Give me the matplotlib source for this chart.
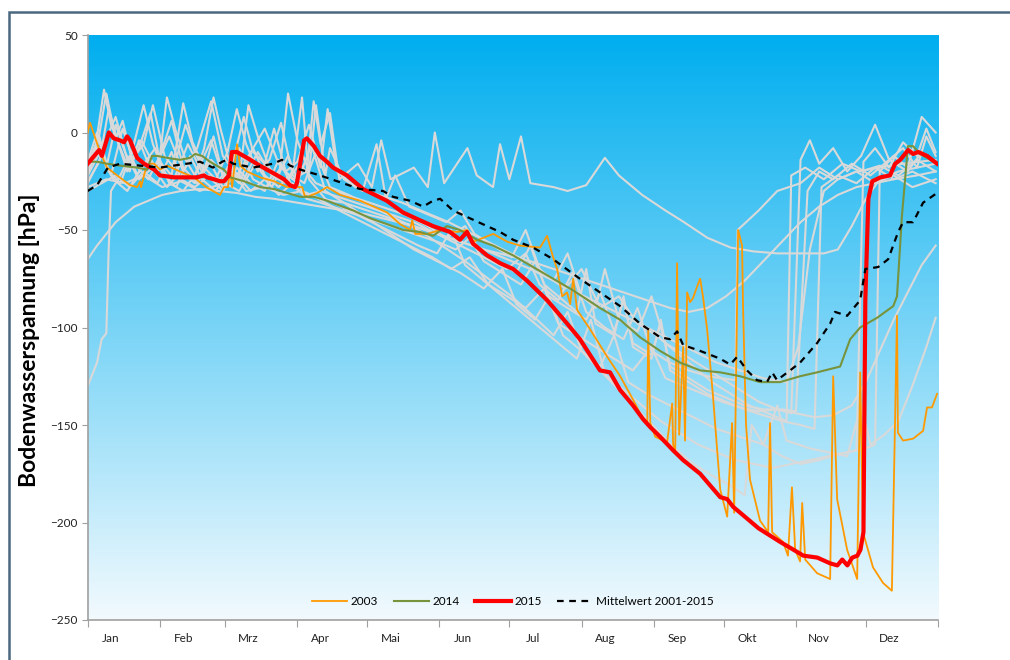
import numpy as np
import matplotlib
matplotlib.use("Agg")
import matplotlib.pyplot as plt
from matplotlib.colors import LinearSegmentedColormap
from matplotlib.patches import Rectangle

plt.rcParams['font.family'] = ['Lato', 'DejaVu Sans']

# Monatsgrenzen (Tage) und Monatsnamen
month_edges = [0, 31, 59, 90, 120, 151, 181, 212, 243, 273, 304, 334, 365]
month_names = ["Jan", "Feb", "Mrz", "Apr", "Mai", "Jun", "Jul", "Aug", "Sep", "Okt", "Nov", "Dez"]
y_ticks = [50, 0, -50, -100, -150, -200, -250]

# 2003 (Tag, hPa)
y2003 = [(0, 0), (1.0, 5), (2.7, -1), (5.3, -10), (8.3, -18), (12.6, -22), (18.2, -27), (21.2, -28),
         (22.5, -25), (22.9, -28), (24.6, -20), (26.3, -16), (28.5, -16), (31.0, -19), (34.0, -17),
         (39.6, -20), (45.6, -23), (50.8, -28), (56.8, -32), (58.5, -28), (60.2, -28), (61.1, -19),
         (62.0, -28), (64.1, -6), (65.4, -17), (68.4, -20), (74.0, -23), (80.0, -25), (85.6, -28),
         (92.1, -28), (93.0, -32), (94.3, -33), (98.5, -31), (102.8, -28), (108.4, -32), (117.0, -35),
         (128.5, -41), (134.1, -47), (138.4, -50), (139.3, -45), (140.6, -52), (145.7, -52),
         (151.3, -50), (158.6, -51), (162.9, -50), (165.5, -56), (174.1, -52), (180.1, -56),
         (185.6, -58), (194.2, -59), (197.2, -53), (199.8, -64), (201.5, -70), (203.7, -84),
         (205.8, -82), (207.1, -88), (208.4, -75), (210.1, -91), (215.7, -101), (223.0, -115),
         (228.6, -125), (234.1, -137), (238.4, -147), (240.2, -149), (240.6, -101), (241.5, -149),
         (243.6, -156), (248.7, -159), (250.9, -139), (251.3, -160), (252.2, -163), (253.0, -67),
         (253.9, -155), (255.6, -110), (256.4, -158), (257.3, -82), (258.6, -87), (259.8, -85),
         (261.6, -79), (262.9, -75), (264.1, -84), (265.9, -101), (268.4, -135), (271.5, -183),
         (274.5, -197), (276.6, -149), (277.5, -195), (279.2, -50), (280.9, -58), (281.3, -89),
         (282.6, -150), (284.3, -178), (288.6, -199), (292.1, -205), (292.9, -149), (293.8, -205),
         (298.5, -210), (300.6, -217), (302.3, -182), (303.7, -214), (305.8, -220), (306.7, -190),
         (308.0, -219), (313.1, -226), (318.7, -229), (320.0, -125), (321.7, -188), (326.0, -214),
         (330.3, -229), (331.6, -123), (332.8, -205), (337.1, -223), (341.4, -231), (345.2, -235),
         (347.4, -94), (347.8, -154), (350.0, -158), (354.3, -157), (358.6, -153), (360.3, -141),
         (362.4, -141), (364.6, -134)]

# 2014
y2014 = [(0, -15), (4.0, -15), (8.3, -16), (13.9, -17), (21.2, -18), (25.5, -19), (27.6, -12),
         (29.8, -12), (34.1, -13), (39.6, -14), (43.9, -13), (46.1, -11), (49.1, -12), (52.5, -15),
         (56.8, -18), (58.5, -19), (61.1, -23), (67.1, -25), (74.0, -28), (80.0, -29), (85.6, -31),
         (91.2, -33), (97.2, -33), (102.8, -35), (107.1, -37), (114.0, -40), (121.3, -44),
         (128.5, -47), (135.4, -50), (142.7, -51), (148.2, -53), (154.2, -48), (159.8, -50),
         (167.1, -55), (174.0, -58), (182.6, -63), (191.2, -69), (199.8, -75), (208.4, -81),
         (219.9, -90), (228.5, -96), (237.1, -105), (245.7, -112), (254.3, -118), (262.9, -122),
         (271.5, -123), (280.1, -125), (288.6, -128), (297.2, -128), (305.8, -125), (313.1, -123),
         (323.0, -120), (327.3, -106), (331.6, -100), (338.9, -95), (345.8, -89), (347.4, -84),
         (349.5, -43), (352.1, -7), (354.3, -7), (357.3, -11), (364.6, -16)]

# 2015
y2015 = [(0, -16), (4.9, -9), (6.1, -12), (9.1, 0), (11.2, -3), (13.8, -4), (15.6, -5), (16.9, -2),
         (18.2, -4), (21.2, -13), (24.2, -16), (28.5, -19), (31.0, -22), (37.0, -23), (42.6, -23),
         (46.9, -23), (49.9, -22), (51.2, -23), (54.2, -24), (56.8, -25), (58.5, -25), (60.6, -22),
         (61.9, -10), (64.0, -10), (68.4, -13), (73.9, -17), (79.9, -21), (84.3, -24), (86.8, -27),
         (89.0, -28), (89.8, -26), (92.9, -4), (94.1, -3), (97.1, -7), (99.7, -12), (102.7, -15),
         (105.3, -18), (111.3, -22), (118.2, -29), (128.4, -35), (135.3, -41), (142.6, -45),
         (148.2, -48), (155.5, -51), (159.8, -55), (162.8, -51), (165.4, -57), (171.4, -63),
         (177.0, -67), (182.6, -70), (188.6, -76), (197.2, -86), (205.8, -98), (211.3, -106),
         (219.9, -122), (224.2, -123), (228.5, -132), (234.1, -140), (238.4, -147), (241.4, -151),
         (245.7, -156), (251.3, -163), (255.6, -168), (262.9, -175), (271.5, -187), (274.5, -188),
         (277.1, -192), (280.1, -195), (288.0, -203), (297.3, -210), (301.6, -213), (307.2, -217),
         (313.2, -218), (318.8, -221), (321.8, -222), (323.9, -219), (326.1, -222), (328.2, -218),
         (330.4, -217), (331.7, -214), (333.0, -205), (333.8, -86), (335.1, -34), (336.8, -25),
         (340.3, -23), (344.4, -22), (346.6, -16), (348.8, -14), (352.2, -9), (354.3, -11),
         (356.5, -10), (360.3, -12), (364.6, -16)]

# Mittelwert 2001-2015
mittel = [(0, -30), (4.0, -27), (8.7, -18), (13.9, -16), (22.5, -17), (31.0, -18), (42.6, -16),
          (48.2, -15), (53.8, -18), (57.7, -15), (59.8, -14), (62.4, -16), (71.0, -18), (79.6, -16),
          (83.4, -14), (86.9, -17), (91.2, -19), (99.7, -22), (107.1, -25), (116.9, -29),
          (126.8, -30), (131.1, -33), (138.4, -35), (144.0, -38), (148.2, -35), (151.3, -34),
          (156.8, -40), (164.1, -44), (171.4, -48), (177.0, -51), (182.6, -55), (191.2, -59),
          (199.8, -65), (210.1, -74), (219.9, -82), (228.5, -89), (237.1, -98), (245.7, -105),
          (250.0, -106), (253.0, -102), (255.6, -109), (262.9, -112), (271.5, -116), (275.8, -119),
          (278.8, -115), (283.0, -122), (287.3, -127), (291.6, -128), (293.8, -123), (295.9, -127),
          (301.5, -122), (305.8, -118), (313.1, -108), (318.7, -98), (320.8, -92), (326.0, -94),
          (331.6, -86), (333.8, -70), (339.3, -69), (343.6, -65), (347.9, -51), (350.0, -46),
          (354.3, -46), (358.6, -36), (364.6, -31)]

# uebrige Jahre 2001-2015 (grau)
g01 = [(0, -18), (4, -8), (8, 20), (12, -3), (15, 6), (19, -14), (24, -6), (28, 14), (33, -12), (37, -18),
       (42, 4), (46, -10), (50, -20), (54, -2), (58, -22), (63, -12), (67, 8), (71, -10), (76, -16), (80, 2),
       (85, -20), (90, -15), (95, 4), (100, -18), (103, 12), (107, -20), (115, -28), (125, -32), (135, -36),
       (145, -41), (155, -46), (165, -52), (175, -58), (185, -64), (195, -72), (205, -80), (212, -70),
       (220, -90), (228, -84), (236, -98), (244, -104), (252, -112), (260, -120), (268, -128), (276, -134),
       (284, -140), (292, -144), (300, -148), (302, -22), (308, -18), (316, -24), (324, -16), (332, -20),
       (340, -17), (348, -22), (356, -14), (364, -20)]
g02 = [(0, -25), (5, -15), (9, 12), (13, -5), (17, -20), (22, -8), (27, 10), (31, -15), (36, -22), (41, 15),
       (45, -5), (50, -18), (55, -24), (60, -10), (64, 12), (68, -6), (73, -20), (78, -14), (83, 5), (88, -22),
       (93, -26), (98, -10), (104, -28), (112, -32), (122, -38), (132, -44), (142, -50), (152, -58),
       (162, -66), (172, -75), (182, -84), (192, -95), (200, -104), (206, -92), (212, -112), (220, -122),
       (228, -132), (236, -142), (244, -152), (252, -162), (260, -170), (268, -176), (276, -181), (282, -186),
       (285, -150), (290, -160), (298, -166), (306, -170), (314, -168), (322, -165), (330, -163), (333, -15),
       (338, -8), (344, -18), (350, -5), (356, -12), (360, 2), (364, -10)]
g03 = [(0, -30), (6, -26), (12, -22), (18, -28), (24, -20), (30, -26), (36, -10), (40, -24), (46, -28),
       (52, -22), (58, -30), (64, -18), (70, -26), (76, -30), (82, -14), (88, -28), (94, -32), (100, -30),
       (110, -34), (120, -38), (130, -42), (140, -46), (150, -52), (160, -58), (170, -64), (180, -70),
       (188, -62), (194, -78), (202, -86), (208, -72), (214, -92), (222, -100), (230, -106), (236, -90),
       (242, -112), (250, -118), (258, -122), (266, -125), (278, -127), (279, -50), (288, -40), (296, -30),
       (306, -26), (314, -18), (322, -24), (330, -20), (338, -26), (346, -22), (354, -28), (364, -24)]
g04 = [(0, -22), (7, -6), (12, 8), (17, -14), (23, -4), (29, -18), (35, -2), (41, -20), (47, -8), (53, 16),
       (58, -12), (64, -22), (70, -10), (76, 2), (82, -16), (88, -24), (94, -20), (97, 16), (100, -6),
       (104, 10), (108, -24), (116, -16), (122, -28), (126, -4), (130, -24), (140, -18), (146, -28),
       (149, 0), (153, -26), (163, -8), (167, -22), (174, -28), (177, -6), (181, -24), (186, -2), (190, -26),
       (200, -28), (206, -30), (214, -27), (222, -13), (228, -22), (238, -32), (248, -40), (256, -46),
       (266, -54), (276, -59), (286, -61), (296, -62), (306, -62), (316, -62), (322, -60), (328, -48),
       (334, -34), (340, -24), (348, -20), (356, -18), (364, -16)]
g05 = [(0, -28), (8, -24), (16, -26), (24, -22), (32, -28), (40, -25), (48, -30), (56, -27), (62, -20),
       (68, -30), (76, -28), (84, -32), (92, -30), (100, -34), (110, -36), (120, -40), (130, -44), (140, -48),
       (150, -52), (160, -56), (170, -60), (180, -63), (190, -66), (200, -70), (210, -74), (220, -78),
       (230, -82), (240, -86), (250, -90), (258, -92), (266, -90), (274, -84), (282, -76), (290, -66),
       (298, -56), (306, -46), (314, -38), (322, -32), (330, -28), (338, -26), (346, -24), (356, -22),
       (364, -20)]
g06 = [(0, -20), (5, -8), (10, -22), (15, 2), (20, -16), (26, -24), (31, -12), (36, 6), (41, -18), (47, -26),
       (53, -14), (59, -22), (65, -8), (71, -24), (77, -28), (83, -18), (90, -26), (96, -6), (102, -30),
       (110, -36), (120, -44), (130, -52), (140, -60), (150, -66), (160, -72), (170, -80), (178, -70),
       (184, -88), (192, -96), (198, -84), (204, -104), (212, -112), (220, -120), (226, -104), (232, -128),
       (240, -134), (250, -140), (260, -146), (270, -152), (280, -156), (290, -160), (296, -140), (300, -158),
       (310, -162), (318, -164), (326, -166), (332, -140), (336, -160), (342, -155), (348, -148), (354, -130),
       (360, -110), (364, -95)]
g07 = [(0, -26), (6, -12), (11, -24), (17, -30), (23, -18), (29, -8), (35, -26), (41, -30), (47, -20),
       (53, -4), (59, -26), (65, -30), (72, -16), (79, -28), (86, -12), (92, -30), (99, -34), (108, -40),
       (118, -46), (128, -52), (138, -58), (148, -64), (156, -70), (164, -64), (172, -78), (180, -84),
       (188, -90), (196, -80), (202, -98), (210, -104), (218, -110), (226, -116), (234, -122), (242, -110),
       (248, -126), (256, -130), (264, -134), (272, -138), (280, -141), (288, -143), (296, -142), (304, -144),
       (312, -146), (320, -145), (328, -140), (334, -128), (340, -112), (346, -96), (352, -82), (358, -68),
       (364, -58)]
g08 = [(0, -15), (4, 0), (8, -18), (12, 4), (16, -10), (21, -22), (26, -14), (32, -20), (37, -24), (43, -6),
       (49, -20), (55, -26), (61, -18), (67, -24), (73, -10), (79, -22), (85, -26), (91, -16), (98, -26),
       (106, -30), (116, -34), (126, -38), (136, -42), (146, -48), (154, -54), (162, -48), (168, -60),
       (176, -66), (184, -72), (190, -58), (196, -78), (204, -86), (210, -92), (214, -70), (218, -98),
       (226, -104), (230, -84), (234, -110), (242, -116), (246, -96), (250, -122), (258, -128), (266, -134),
       (274, -138), (282, -142), (290, -145), (298, -148), (306, -150), (312, -152), (315, -28), (322, -22),
       (330, -26), (338, -18), (346, -24), (354, -20), (364, -26)]
g09 = [(0, -22), (3, -10), (7, 22), (10, 4), (14, -8), (18, -20), (22, -4), (26, -16), (30, -22), (34, 18),
       (38, 0), (42, -14), (46, -22), (50, -8), (54, 18), (57, 2), (61, -16), (65, -24), (69, 14), (73, -2),
       (78, -18), (82, -24), (86, 20), (90, -4), (95, -20), (98, 14), (102, -22), (104, -8), (110, -24),
       (118, -30), (124, -6), (128, -34), (132, -22), (138, -38), (146, -42), (154, -46), (160, -40),
       (166, -52), (174, -58), (182, -64), (188, -50), (194, -70), (200, -76), (206, -62), (212, -84),
       (218, -90), (222, -70), (228, -96), (236, -102), (242, -84), (248, -108), (256, -114), (264, -120),
       (272, -126), (280, -132), (288, -138), (296, -142), (302, -144), (306, -14), (310, -4), (314, -16),
       (320, -8), (326, -20), (332, -12), (338, 4), (344, -14), (350, -8), (356, -18), (360, -2), (364, -12)]
g10 = [(0, -130), (4, -118), (6, -106), (8, -103), (9, -60), (10, -30), (14, -22), (18, -12), (22, -24),
       (28, -18), (34, -28), (40, -20), (46, -26), (52, -14), (58, -28), (64, -22), (70, -30), (76, -24),
       (82, -32), (88, -26), (94, -34), (100, -36), (110, -40), (120, -44), (130, -48), (140, -52), (150, -56),
       (158, -60), (164, -54), (170, -66), (178, -72), (186, -78), (192, -66), (198, -84), (206, -90),
       (214, -96), (220, -82), (226, -102), (230, -86), (234, -108), (242, -114), (246, -98), (250, -120),
       (258, -126), (266, -132), (274, -136), (282, -140), (290, -142), (298, -142), (304, -143), (309, -30),
       (314, -20), (320, -24), (328, -16), (336, -22), (344, -14), (352, -20), (358, -10), (364, -16)]
g11 = [(0, -65), (4, -58), (8, -52), (12, -46), (16, -42), (20, -38), (26, -35), (32, -32), (40, -30),
       (48, -29), (56, -30), (64, -31), (72, -33), (80, -34), (90, -36), (100, -38), (110, -40), (120, -42),
       (130, -45), (140, -48), (150, -52), (160, -56), (170, -60), (180, -65), (190, -70), (200, -76),
       (210, -82), (220, -88), (230, -94), (240, -100), (250, -106), (260, -112), (270, -118), (280, -122),
       (290, -126), (300, -128), (305, -110), (310, -60), (316, -30), (322, -24), (330, -20), (340, -18),
       (350, -16), (364, -14)]
g12 = [(0, -16), (5, -2), (9, -20), (14, -26), (19, -10), (24, 14), (28, -6), (33, -22), (38, -28), (44, -12),
       (49, -24), (55, -30), (60, -20), (65, -26), (71, -8), (76, -22), (82, -28), (88, -20), (92, 18),
       (95, -24), (102, -34), (112, -40), (122, -46), (132, -52), (142, -58), (150, -62), (156, -50),
       (162, -68), (170, -76), (178, -84), (186, -92), (194, -100), (202, -108), (210, -116), (216, -96),
       (222, -124), (230, -132), (238, -140), (246, -148), (254, -154), (262, -160), (270, -164), (278, -168),
       (286, -170), (294, -172), (302, -170), (310, -168), (318, -166), (326, -164), (334, -162), (338, -160),
       (340, -20), (346, -12), (352, -18), (358, 8), (364, 0)]
grey_years = [g01, g02, g03, g04, g05, g06, g07, g08, g09, g10, g11, g12]


def xy(pairs):
    a = np.array(pairs, dtype=float)
    return a[:, 0], a[:, 1]


fig = plt.figure(figsize=(10.1, 6.6), dpi=100)
ax = fig.add_axes([87.7 / 1010, 40 / 660, 850.3 / 1010, 585 / 660])

# Hintergrund-Verlauf
cmap = LinearSegmentedColormap.from_list("bg", ["#F2FAFE", "#00AEEF"])
grad = np.linspace(0, 1, 256).reshape(-1, 1)
ax.imshow(grad, extent=[0, 365, -250, 50], aspect='auto', cmap=cmap, origin='lower', zorder=0)

for g in grey_years:
    x, y = xy(g)
    ax.plot(x, y, color='#D9D9D9', lw=1.5, zorder=2)

x, y = xy(y2003)
ax.plot(x, y, color='#FF9900', lw=1.3, zorder=3, label='2003')
x, y = xy(y2014)
ax.plot(x, y, color='#77933C', lw=1.5, zorder=3, label='2014')
x, y = xy(y2015)
ax.plot(x, y, color='#FF0000', lw=3, zorder=4, label='2015')
x, y = xy(mittel)
ax.plot(x, y, color='black', lw=1.6, ls=(0, (3, 2.5)), zorder=5, label='Mittelwert 2001-2015')

ax.set_xlim(0, 365)
ax.set_ylim(-250, 50)
ax.set_yticks(y_ticks)
ax.set_xticks(month_edges)
ax.set_xticklabels([])
# Beschriftung etwas nach dem Monatsanfang, wie im Original
label_pos = [e + 10 for e in month_edges[:-1]]
ax.set_xticks(label_pos, minor=True)
ax.set_xticklabels(month_names, minor=True)
ax.tick_params(axis='x', which='major', length=5, color='#A0A0A0', direction='out')
ax.tick_params(axis='x', which='minor', length=0, pad=9, labelsize=8.5, colors='#222222')
ax.tick_params(axis='y', length=4, color='#A0A0A0', direction='out', pad=3, labelsize=8.5, labelcolor='#222222')
for s in ['top', 'right']:
    ax.spines[s].set_visible(False)
for s in ['left', 'bottom']:
    ax.spines[s].set_color('#A0A0A0')
    ax.spines[s].set_linewidth(1.2)

fig.text(30 / 1010, 1 - 340 / 660, "Bodenwasserspannung [hPa]", rotation=90, ha='center', va='center',
         fontsize=16.5, fontweight='bold', color='black')

ax.legend(loc='center', bbox_to_anchor=(0.5, 0.031), ncol=4, frameon=False, fontsize=8.5,
          handlelength=3, handletextpad=0.3, columnspacing=1.3)

fig.add_artist(Rectangle((9 / 1010, -0.1), 2, 648 / 660 + 0.1, fill=False, edgecolor='#4A6880',
                         lw=1.8, transform=fig.transFigure))

fig.savefig("out.png", dpi=100)
